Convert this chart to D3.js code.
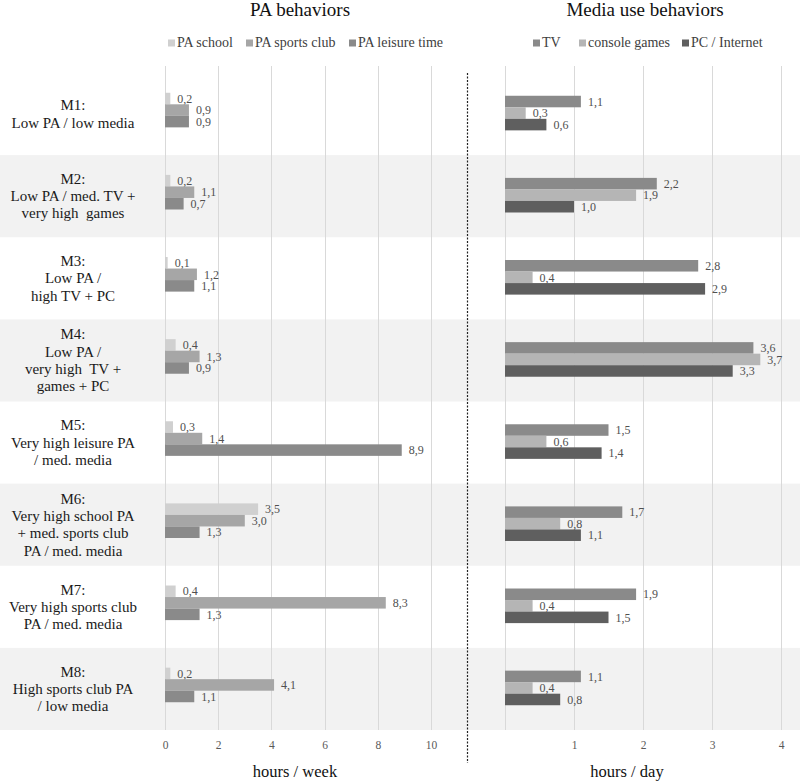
<!DOCTYPE html>
<html><head><meta charset="utf-8">
<script src="https://cdn.jsdelivr.net/npm/d3@7"></script>
<style>
html,body{margin:0;padding:0;background:#fff;}
svg{display:block;font-family:"Liberation Serif","Times New Roman",serif;}
</style></head>
<body>
<svg id="chart" width="800" height="783"></svg>
<script>
// ---- data ----
const rows = ["M1","M2","M3","M4","M5","M6","M7","M8"];
const rowLabels = [
  ["M1:","Low PA / low media"],
  ["M2:","Low PA / med. TV +","very high  games"],
  ["M3:","Low PA /","high TV + PC"],
  ["M4:","Low PA /","very high  TV +","games + PC"],
  ["M5:","Very high leisure PA","/ med. media"],
  ["M6:","Very high school PA","+ med. sports club","PA / med. media"],
  ["M7:","Very high sports club","PA / med. media"],
  ["M8:","High sports club PA","/ low media"]
];
const paSeries = ["PA school","PA sports club","PA leisure time"];
const paSchool  = [0.2,0.2,0.1,0.4,0.3,3.5,0.4,0.2];
const paClub    = [0.9,1.1,1.2,1.3,1.4,3.0,8.3,4.1];
const paLeisure = [0.9,0.7,1.1,0.9,8.9,1.3,1.3,1.1];
const mediaSeries = ["TV","console games","PC / Internet"];
const tv      = [1.1,2.2,2.8,3.6,1.5,1.7,1.9,1.1];
const console_ = [0.3,1.9,0.4,3.7,0.6,0.8,0.4,0.4];
const pc      = [0.6,1.0,2.9,3.3,1.4,1.1,1.5,0.8];
const paTicks = [0,2,4,6,8,10];
const mediaTicks = [0,1,2,3,4];

const paColors = ["#d0d0d0","#a6a6a6","#8a8a8a"];
const mediaColors = ["#8a8a8a","#b5b5b5","#5f5f5f"];

const svg = d3.select("#chart");
const fmt = v => d3.format(".1f")(v).replace(".", ",");

const y = d3.scaleBand().domain(rows).range([73, 730]).padding(0);
const xL = d3.scaleLinear().domain([0,10]).range([165, 431]);
const xR = d3.scaleLinear().domain([0,4]).range([505, 781]);

// bands
svg.append("g").selectAll("rect").data(rows.filter((d,i)=>i%2===1)).join("rect")
  .attr("x",0).attr("width",800).attr("y",d=>y(d)).attr("height",y.bandwidth())
  .attr("fill","#f2f2f2");

// gridlines
const gridG = svg.append("g").attr("stroke","#d9d9d9").attr("stroke-width",1);
gridG.selectAll("line.l").data(paTicks).join("line").attr("class","l")
  .attr("x1",d=>Math.round(xL(d))+0.5).attr("x2",d=>Math.round(xL(d))+0.5)
  .attr("y1",66).attr("y2",730);
gridG.selectAll("line.r").data(mediaTicks).join("line").attr("class","r")
  .attr("x1",d=>Math.round(xR(d))+0.5).attr("x2",d=>Math.round(xR(d))+0.5)
  .attr("y1",66).attr("y2",730);

// dotted separator
svg.append("line").attr("x1",467.5).attr("x2",467.5).attr("y1",73).attr("y2",763)
  .attr("stroke","#222").attr("stroke-width",1.2).attr("stroke-dasharray","2,1.5");

// row labels
rowLabels.forEach((lines,i)=>{
  const cy = y(rows[i]) + y.bandwidth()/2;
  const lh = 17.3;
  const t = svg.append("text").attr("text-anchor","middle").attr("font-size",15).attr("fill","#1a1a1a");
  lines.forEach((ln,j)=>{
    t.append("tspan").attr("x",73)
      .attr("y", cy - (lines.length-1)*lh/2 + j*lh + 5)
      .attr("xml:space","preserve").text(ln);
  });
});

// bars
function drawGroup(seriesNames, arrays, colors, x, offset, gap){
  const g = svg.append("g");
  rows.forEach((r,i)=>{
    const cy = y(r) + y.bandwidth()/2 + offset;
    const inner = d3.scaleBand().domain(seriesNames).range([cy-17.3, cy+17.3]);
    seriesNames.forEach((s,k)=>{
      const v = arrays[k][i];
      g.append("rect").attr("x",x(0)).attr("y",inner(s))
        .attr("width",x(v)-x(0)).attr("height",inner.bandwidth())
        .attr("fill",colors[k]);
      g.append("text").attr("x",x(v)+gap).attr("y",inner(s)+inner.bandwidth()/2+4.2)
        .attr("font-size",12).attr("fill","#505050").text(fmt(v));
    });
  });
}
drawGroup(paSeries,[paSchool,paClub,paLeisure],paColors,xL,-4,7);
drawGroup(mediaSeries,[tv,console_,pc],mediaColors,xR,-1,7);

// axes tick labels
const axL = d3.axisBottom(xL).tickValues(paTicks).tickSize(0).tickFormat(d3.format("d"));
const gL = svg.append("g").attr("transform","translate(0,738)").call(axL);
const axR = d3.axisBottom(xR).tickValues(mediaTicks.slice(1)).tickSize(0).tickFormat(d3.format("d"));
const gR = svg.append("g").attr("transform","translate(0,738)").call(axR);
[gL,gR].forEach(g=>{
  g.select(".domain").remove();
  g.selectAll("text").attr("font-family","Liberation Serif, serif").attr("font-size",11.5).attr("fill","#595959");
});

// axis titles
svg.append("text").attr("x",295).attr("y",777).attr("text-anchor","middle").attr("font-size",16.5).attr("fill","#111").text("hours / week");
svg.append("text").attr("x",627).attr("y",777).attr("text-anchor","middle").attr("font-size",16.5).attr("fill","#111").text("hours / day");

// titles
svg.append("text").attr("x",300).attr("y",16).attr("text-anchor","middle").attr("font-size",19).attr("fill","#111").text("PA behaviors");
svg.append("text").attr("x",645).attr("y",16).attr("text-anchor","middle").attr("font-size",19).attr("fill","#111").text("Media use behaviors");

// legends
function legend(names, colors, xs){
  names.forEach((n,k)=>{
    svg.append("rect").attr("x",xs[k]).attr("y",39.5).attr("width",7).attr("height",7).attr("fill",colors[k]);
    svg.append("text").attr("x",xs[k]+9).attr("y",47).attr("font-size",14).attr("fill","#404040").text(n);
  });
}
legend(paSeries, paColors, [168,246,349]);
legend(mediaSeries, mediaColors, [533,579,682]);
</script>
</body></html>
